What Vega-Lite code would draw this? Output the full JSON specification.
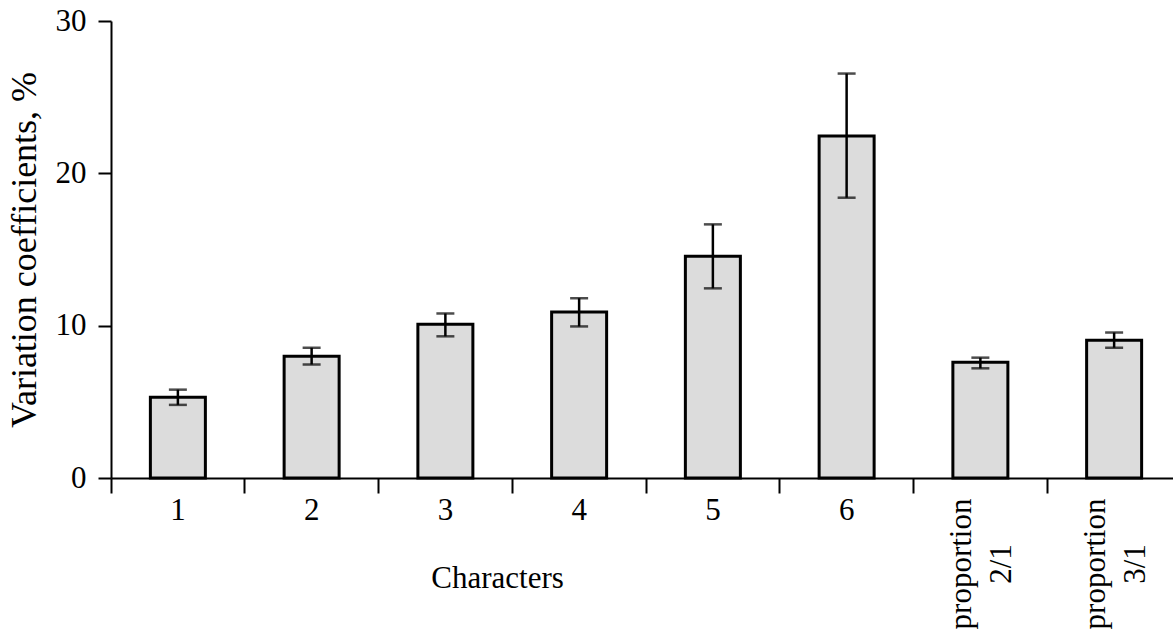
{
  "$schema": "https://vega.github.io/schema/vega-lite/v6.json",
  "autosize": {"type": "none"},
  "padding": {"left": 111, "top": 21, "right": 0, "bottom": 157},
  "width": 1062,
  "height": 457,
  "background": "white",
  "config": {
    "view": {"stroke": null},
    "font": "Liberation Serif",
    "axis": {"grid": false, "domainColor": "black", "tickColor": "black", "labelColor": "black", "titleColor": "black", "labelFont": "Liberation Serif", "titleFont": "Liberation Serif", "labelFontSize": 31, "titleFontSize": 31, "titleFontWeight": "normal", "domainWidth": 2, "tickWidth": 2}
  },
  "data": {
    "values": [
      {"cat": "1", "v": 5.3, "lo": 4.8, "hi": 5.8, "rl": ""},
      {"cat": "2", "v": 8.0, "lo": 7.45, "hi": 8.55, "rl": ""},
      {"cat": "3", "v": 10.1, "lo": 9.3, "hi": 10.8, "rl": ""},
      {"cat": "4", "v": 10.9, "lo": 9.95, "hi": 11.8, "rl": ""},
      {"cat": "5", "v": 14.55, "lo": 12.45, "hi": 16.65, "rl": ""},
      {"cat": "6", "v": 22.45, "lo": 18.4, "hi": 26.55, "rl": ""},
      {"cat": "proportion 2/1", "v": 7.6, "lo": 7.2, "hi": 7.9, "rl": "proportion\n2/1"},
      {"cat": "proportion 3/1", "v": 9.05, "lo": 8.55, "hi": 9.55, "rl": "proportion\n3/1"}
    ]
  },
  "encoding": {
    "x": {
      "field": "cat", "type": "nominal", "sort": null,
      "scale": {"range": [0, 1070], "paddingInner": 0, "paddingOuter": 0},
      "axis": {
        "title": "Characters", "labelAngle": 0, "bandPosition": 0, "tickSize": 15, "labelPadding": 2,
        "labelExpr": "indexof(datum.value, 'proportion') >= 0 ? '' : datum.value",
        "titleX": 386, "titleY": 100, "titleAnchor": "middle", "titleBaseline": "middle"
      }
    }
  },
  "layer": [
    {
      "mark": {"type": "bar", "width": 55, "fill": "#dcdcdc", "stroke": "black", "strokeWidth": 3},
      "encoding": {
        "y": {
          "field": "v", "type": "quantitative",
          "scale": {"domain": [0, 30], "nice": false},
          "axis": {"title": "Variation coefficients, %", "titleFontSize": 36, "values": [0, 10, 20, 30], "tickSize": 13, "labelPadding": 12, "titlePadding": 12}
        }
      }
    },
    {
      "mark": {"type": "rule", "color": "black", "strokeWidth": 2.5},
      "encoding": {"y": {"field": "lo", "type": "quantitative"}, "y2": {"field": "hi"}}
    },
    {
      "mark": {"type": "tick", "color": "black", "size": 18, "thickness": 2.5, "orient": "horizontal"},
      "encoding": {"y": {"field": "lo", "type": "quantitative"}}
    },
    {
      "mark": {"type": "tick", "color": "black", "size": 18, "thickness": 2.5, "orient": "horizontal"},
      "encoding": {"y": {"field": "hi", "type": "quantitative"}}
    },
    {
      "mark": {"type": "text", "angle": 270, "align": "center", "baseline": "middle", "lineBreak": "\n", "lineHeight": 40, "fontSize": 31, "font": "Liberation Serif", "color": "black", "yOffset": 86, "xOffset": -18},
      "encoding": {
        "y": {"datum": 0, "type": "quantitative"},
        "text": {"field": "rl"}
      }
    }
  ]
}
